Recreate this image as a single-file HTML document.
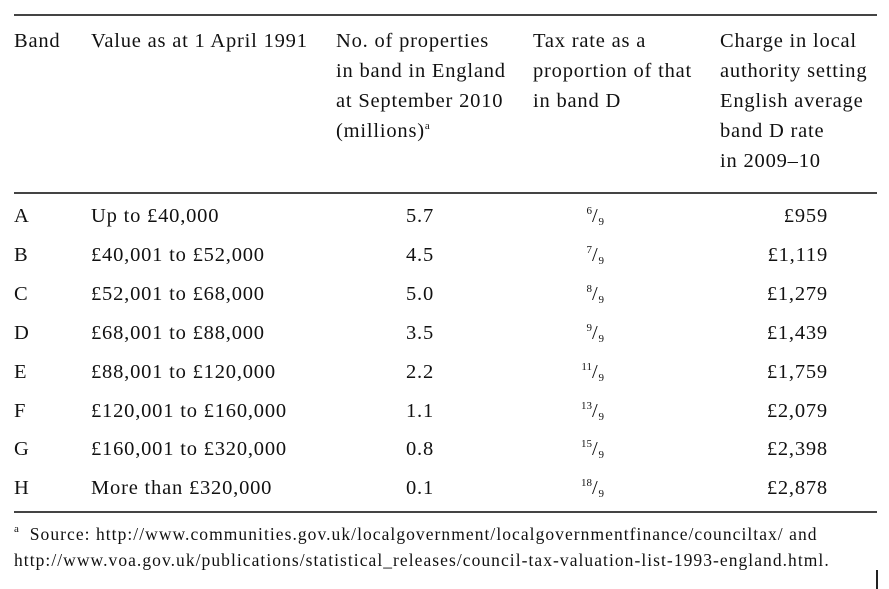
<!DOCTYPE html>
<html><head><meta charset="utf-8"><style>
body{margin:0;width:889px;height:589px;background:#fff;position:relative;overflow:hidden;font-family:"Liberation Serif",serif;color:#111;}
.t{position:absolute;font-size:20.5px;line-height:30px;white-space:nowrap;letter-spacing:0.8px;}
.r{position:absolute;font-size:20.5px;line-height:24px;white-space:nowrap;letter-spacing:0.8px;}
.hl{position:absolute;left:14px;width:863px;height:2px;background:#444;}
sup{font-size:11px;vertical-align:8px;line-height:0;letter-spacing:0}
sub{font-size:11px;vertical-align:-3px;line-height:0;letter-spacing:0}
.f{position:absolute;left:14px;font-size:17.5px;line-height:26px;white-space:nowrap;letter-spacing:1.05px;}
</style></head><body>
<div class="hl" style="top:14px"></div>
<div class="t" style="left:14px;top:26px">Band</div>
<div class="t" style="left:91px;top:26px">Value as at 1 April 1991</div>
<div class="t" style="left:336px;top:26px">No. of properties<br>in band in England<br>at September 2010<br>(millions)<sup>a</sup></div>
<div class="t" style="left:533px;top:26px">Tax rate as a<br>proportion of that<br>in band D</div>
<div class="t" style="left:720px;top:26px">Charge in local<br>authority setting<br>English average<br>band D rate<br>in 2009–10</div>
<div class="hl" style="top:192px"></div>
<div id="rows"></div>
<div class="hl" style="top:511px"></div>
<div class="f" style="top:521px"><sup>a</sup>&nbsp; Source: http://www.communities.gov.uk/localgovernment/localgovernmentfinance/counciltax/ and</div>
<div class="f" style="top:547px">http://www.voa.gov.uk/publications/statistical_releases/council-tax-valuation-list-1993-england.html.</div>
<div style="position:absolute;left:876px;top:570px;width:2px;height:19px;background:#222"></div>
<script>
var d=[["A","Up to £40,000","5.7","6","£959"],["B","£40,001 to £52,000","4.5","7","£1,119"],["C","£52,001 to £68,000","5.0","8","£1,279"],["D","£68,001 to £88,000","3.5","9","£1,439"],["E","£88,001 to £120,000","2.2","11","£1,759"],["F","£120,001 to £160,000","1.1","13","£2,079"],["G","£160,001 to £320,000","0.8","15","£2,398"],["H","More than £320,000","0.1","18","£2,878"]];
var h="";d.forEach(function(r,i){var y=204+i*38.9;
h+='<div class="r" style="left:14px;top:'+y+'px">'+r[0]+'</div>';
h+='<div class="r" style="left:91px;top:'+y+'px">'+r[1]+'</div>';
h+='<div class="r" style="left:380px;width:80px;text-align:center;top:'+y+'px">'+r[2]+'</div>';
h+='<div class="r" style="left:520px;width:84px;text-align:right;top:'+y+'px"><sup>'+r[3]+'</sup>/<sub>9</sub></div>';
h+='<div class="r" style="left:700px;width:128px;text-align:right;top:'+y+'px">'+r[4]+'</div>';});
document.getElementById("rows").innerHTML=h;
</script>
</body></html>
